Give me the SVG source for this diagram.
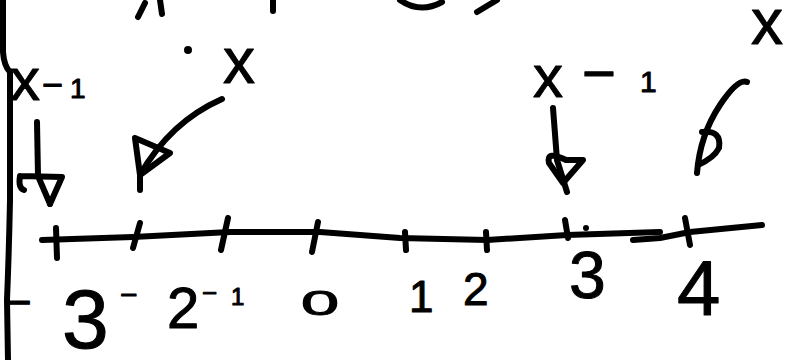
<svg xmlns="http://www.w3.org/2000/svg" width="791" height="360" viewBox="0 0 791 360">
<style>
.s{fill:none;stroke:#000;stroke-width:6;stroke-linecap:round;stroke-linejoin:round}
.t{font-family:"Liberation Sans","DejaVu Sans",sans-serif;fill:#000;stroke:#000;stroke-width:1;stroke-linejoin:round}
</style>
<rect width="791" height="360" fill="#fff"/>
<g id="frame">
<path class="s" d="M3,0 L3,52 Q4,66 10,72 L10,200 Q9,250 7,300 L8,360"/>
<path class="s" d="M138,17 L145,3 M160,0 L162,14 M273,0 L273,11 M400,0 Q420,14 442,2 M477,12 L497,0"/>
</g>
<g id="label-left">
<text class="t"><tspan x="10" y="100" font-size="60">x</tspan><tspan x="42" y="97" font-size="36">−</tspan><tspan x="70" y="98" font-size="28">1</tspan></text>
</g>
<g id="label-x-mid">
<circle cx="188" cy="50" r="4" fill="#000"/>
<text class="t" x="223" y="83" font-size="64">x</text>
</g>
<g id="label-x-1-mid">
<text class="t"><tspan x="533" y="97" font-size="60">x</tspan><tspan x="582" y="93" font-size="58">−</tspan><tspan x="640" y="92" font-size="30">1</tspan></text>
</g>
<g id="label-x-right">
<text class="t" x="751" y="44" font-size="64">x</text>
</g>
<g id="axis">
<path class="s" d="M42,240 L133,237 L230,232 L320,232 L400,238 L487,240 L567,235 L660,232"/>
<path class="s" d="M633,240 L660,238 L690,232 L762,225"/>
<path class="s" d="M56,228 L57,258 M140,223 L133,248 M228,218 L221,250 M318,222 L312,252 M405,232 L406,250 M486,232 L487,250 M565,220 L568,238 M685,218 L690,245"/>
<circle cx="586" cy="228" r="3" fill="#000"/>
</g>
<g id="ticklabels">
<text class="t"><tspan x="5" y="318" font-size="46">−</tspan><tspan x="62" y="348" font-size="84">3</tspan></text>
<text class="t"><tspan x="120" y="305" font-size="30">−</tspan><tspan x="167" y="328" font-size="58">2</tspan></text>
<text class="t"><tspan x="202" y="302" font-size="26">−</tspan><tspan x="231" y="305" font-size="24">1</tspan></text>
<text class="t" transform="translate(301,315) scale(1.9,1)" font-size="36" stroke-width="0.6">0</text>
<text class="t" x="409" y="312" font-size="44">1</text>
<text class="t" x="463" y="305" font-size="46">2</text>
<text class="t" x="569" y="298" font-size="66">3</text>
<text class="t" x="677" y="315" font-size="78">4</text>
</g>
<g id="connectors">
<path class="s" d="M37,122 L38,176 L50,204"/>
<path class="s" d="M20,176 L62,177 L50,204 M20,176 Q18,188 24,190"/>
<path class="s" d="M222,99 Q170,122 140,175 L140,190"/>
<path class="s" d="M135,138 L170,153 L140,175 Z"/>
<path class="s" d="M553,108 L557,160 L567,192"/>
<path class="s" d="M549,163 Q546,150 566,160 L583,160 L563,183 Z"/>
<path class="s" d="M747,82 Q738,78 720,105 Q700,135 697,173"/>
<path class="s" d="M702,132 Q722,130 719,148 Q714,158 698,165"/>
</g>
</svg>
